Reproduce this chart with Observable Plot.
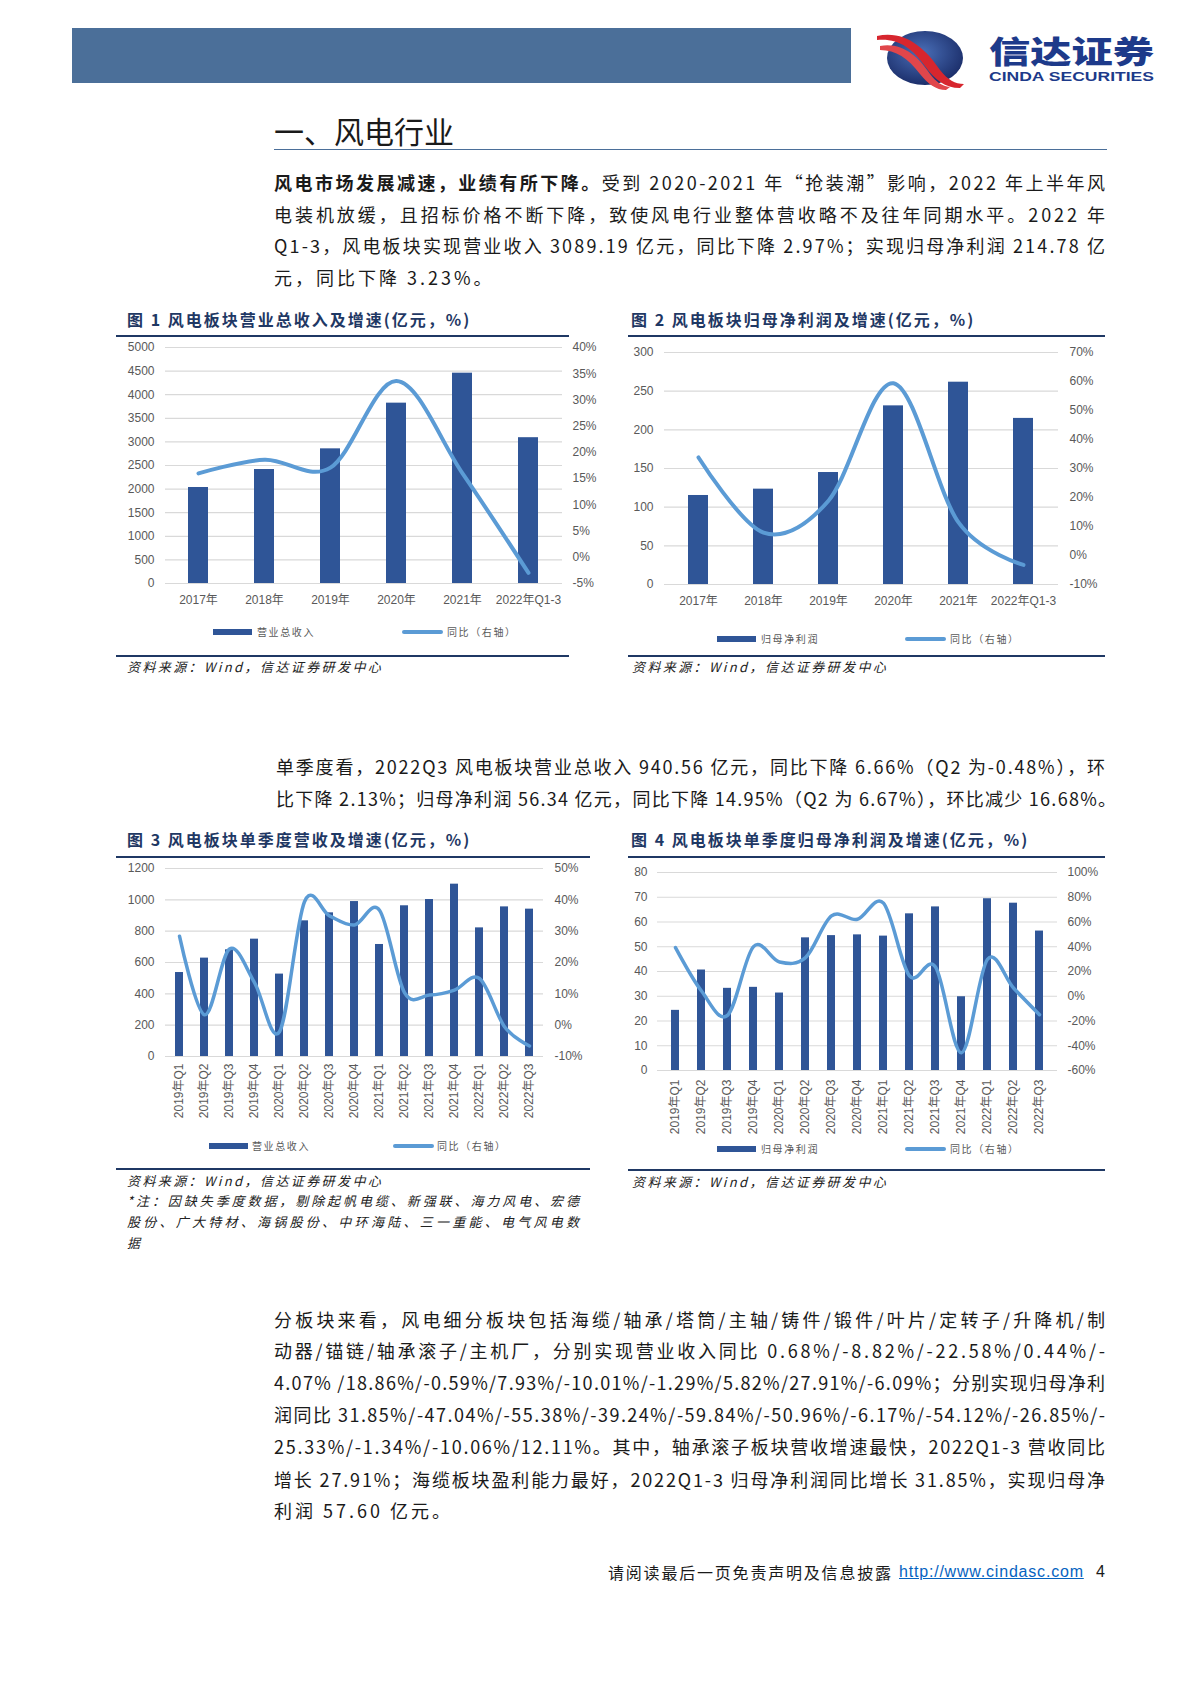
<!DOCTYPE html>
<html><head><meta charset="utf-8">
<script src="https://cdn.jsdelivr.net/npm/d3@7"></script>
<script src="https://cdn.jsdelivr.net/npm/@observablehq/plot@0.6"></script>
<style>
body{margin:0;background:#fff;}
#page{position:relative;width:1190px;height:1683px;overflow:hidden;font-family:"Noto Sans CJK SC",sans-serif;color:#1a1a1a;background:#fff;}
.abs{position:absolute;}
.jl,.pl{position:absolute;white-space:nowrap;font-size:18px;line-height:24px;left:274px;color:#1a1a1a;}
.pl{letter-spacing:3px;}
.ctitle{position:absolute;font-size:16px;line-height:20px;font-weight:700;color:#1F3864;white-space:nowrap;letter-spacing:2px;}
.tline{position:absolute;height:2px;background:#1F3864;}
.bline{position:absolute;height:2px;background:#1F3864;}
.src{position:absolute;font-size:13px;line-height:18px;font-style:italic;color:#222;white-space:nowrap;letter-spacing:2.4px;}
.lgtext{position:absolute;font-size:10px;line-height:14px;color:#595959;letter-spacing:1.6px;white-space:nowrap;}
.lgbar{position:absolute;width:39px;height:6px;background:#2F5597;}
.lgline{position:absolute;width:41px;height:4px;border-radius:2px;background:#5B9BD5;}
.chart{position:absolute;}
</style>
</head><body>
<div id="page">
  <!-- header -->
  <div class="abs" style="left:72px;top:28px;width:779px;height:55px;background:#4B6F99;"></div>
  <svg class="abs" style="left:870px;top:26px;" width="100" height="66" viewBox="870 26 100 66">
    <defs>
      <radialGradient id="gb" cx="0.45" cy="0.4" r="0.7">
        <stop offset="0" stop-color="#4A6FB8"/>
        <stop offset="1" stop-color="#14245E"/>
      </radialGradient>
    </defs>
    <ellipse cx="925" cy="58" rx="38" ry="27" fill="url(#gb)"/>
    <path d="M877,36 C905,30 925,48 940,70 C948,80 955,84 964,84 L960,88 C945,88 935,80 925,66 C912,48 898,38 877,40 Z" fill="#D7262E"/>
    <path d="M880,46 C902,42 918,56 930,74 C936,82 942,86 950,87 L946,90 C936,90 928,84 920,74 C908,58 896,50 880,50 Z" fill="#E0464B"/>
  </svg>
  <svg class="abs" style="left:985px;top:26px;overflow:visible;" width="175" height="62" viewBox="0 0 175 62">
    <text x="4" y="37" textLength="165" lengthAdjust="spacingAndGlyphs" font-family="Noto Sans CJK SC" font-weight="900" font-size="31" fill="#1D3A8A">信达证券</text>
    <text x="4" y="55" textLength="165" lengthAdjust="spacingAndGlyphs" font-family="Liberation Sans" font-weight="700" font-size="13.5" fill="#1D3A8A">CINDA SECURITIES</text>
  </svg>

  <!-- section title -->
  <div class="abs" style="left:274px;top:110px;font-size:30px;line-height:40px;color:#1a1a1a;">一、风电行业</div>
  <div class="abs" style="left:274px;top:149px;width:833px;height:1px;background:#4B6F99;"></div>

  <!-- paragraph 1 -->
  <div class="jl" data-w="831" style="top:170px;"><b>风电市场发展减速，业绩有所下降。</b>受到 2020-2021 年“抢装潮”影响，2022 年上半年风</div>
  <div class="jl" data-w="831" style="top:202px;">电装机放缓，且招标价格不断下降，致使风电行业整体营收略不及往年同期水平。2022 年</div>
  <div class="jl" data-w="831" style="top:233px;">Q1-3，风电板块实现营业收入 3089.19 亿元，同比下降 2.97%；实现归母净利润 214.78 亿</div>
  <div class="pl" style="top:265px;">元，同比下降 3.23%。</div>

  <!-- chart titles row 1 -->
  <div class="ctitle" style="left:127px;top:309px;">图 1 风电板块营业总收入及增速(亿元，%)</div>
  <div class="ctitle" style="left:631px;top:309px;">图 2 风电板块归母净利润及增速(亿元，%)</div>
  <div class="tline" style="left:116px;top:335px;width:453px;"></div>
  <div class="tline" style="left:628px;top:335px;width:477px;"></div>
  <div id="c1" class="chart" style="left:116px;top:337px;"></div>
  <div id="c2" class="chart" style="left:628px;top:337px;"></div>

  <div class="lgbar" style="left:213px;top:629px;"></div>
  <div class="lgtext" style="left:257px;top:625px;">营业总收入</div>
  <div class="lgline" style="left:402px;top:630px;"></div>
  <div class="lgtext" style="left:447px;top:625px;">同比（右轴）</div>

  <div class="lgbar" style="left:717px;top:636px;"></div>
  <div class="lgtext" style="left:761px;top:632px;">归母净利润</div>
  <div class="lgline" style="left:905px;top:637px;"></div>
  <div class="lgtext" style="left:950px;top:632px;">同比（右轴）</div>

  <div class="bline" style="left:116px;top:655px;width:453px;"></div>
  <div class="bline" style="left:628px;top:655px;width:477px;"></div>
  <div class="src" style="left:127px;top:658px;">资料来源：Wind，信达证券研发中心</div>
  <div class="src" style="left:632px;top:658px;">资料来源：Wind，信达证券研发中心</div>

  <!-- paragraph 2 -->
  <div class="jl" data-w="829" style="top:754px;left:276px;">单季度看，2022Q3 风电板块营业总收入 940.56 亿元，同比下降 6.66%（Q2 为-0.48%），环</div>
  <div class="jl" data-w="840" style="top:786px;left:276px;">比下降 2.13%；归母净利润 56.34 亿元，同比下降 14.95%（Q2 为 6.67%），环比减少 16.68%。</div>

  <!-- chart titles row 2 -->
  <div class="ctitle" style="left:127px;top:829px;">图 3 风电板块单季度营收及增速(亿元，%)</div>
  <div class="ctitle" style="left:631px;top:829px;">图 4 风电板块单季度归母净利润及增速(亿元，%)</div>
  <div class="tline" style="left:116px;top:856px;width:474px;"></div>
  <div class="tline" style="left:628px;top:856px;width:477px;"></div>
  <div id="c3" class="chart" style="left:116px;top:858px;"></div>
  <div id="c4" class="chart" style="left:628px;top:858px;"></div>

  <div class="lgbar" style="left:209px;top:1143px;"></div>
  <div class="lgtext" style="left:252px;top:1139px;">营业总收入</div>
  <div class="lgline" style="left:393px;top:1144px;"></div>
  <div class="lgtext" style="left:437px;top:1139px;">同比（右轴）</div>

  <div class="lgbar" style="left:717px;top:1146px;"></div>
  <div class="lgtext" style="left:761px;top:1142px;">归母净利润</div>
  <div class="lgline" style="left:905px;top:1147px;"></div>
  <div class="lgtext" style="left:950px;top:1142px;">同比（右轴）</div>

  <div class="bline" style="left:116px;top:1168px;width:474px;"></div>
  <div class="bline" style="left:628px;top:1169px;width:477px;"></div>
  <div class="src" style="left:127px;top:1172px;">资料来源：Wind，信达证券研发中心</div>
  <div class="src jn" data-w="452" style="left:127px;top:1192px;">*注：因缺失季度数据，剔除起帆电缆、新强联、海力风电、宏德</div>
  <div class="src jn" data-w="452" style="left:127px;top:1213px;">股份、广大特材、海锅股份、中环海陆、三一重能、电气风电数</div>
  <div class="src" style="left:127px;top:1234px;">据</div>
  <div class="src" style="left:632px;top:1173px;">资料来源：Wind，信达证券研发中心</div>

  <!-- paragraph 3 -->
  <div class="jl" data-w="831" style="top:1307px;">分板块来看，风电细分板块包括海缆/轴承/塔筒/主轴/铸件/锻件/叶片/定转子/升降机/制</div>
  <div class="jl" data-w="831" style="top:1338px;">动器/锚链/轴承滚子/主机厂，分别实现营业收入同比 0.68%/-8.82%/-22.58%/0.44%/-</div>
  <div class="jl" data-w="831" style="top:1370px;">4.07% /18.86%/-0.59%/7.93%/-10.01%/-1.29%/5.82%/27.91%/-6.09%；分别实现归母净利</div>
  <div class="jl" data-w="831" style="top:1402px;">润同比 31.85%/-47.04%/-55.38%/-39.24%/-59.84%/-50.96%/-6.17%/-54.12%/-26.85%/-</div>
  <div class="jl" data-w="831" style="top:1434px;">25.33%/-1.34%/-10.06%/12.11%。其中，轴承滚子板块营收增速最快，2022Q1-3 营收同比</div>
  <div class="jl" data-w="831" style="top:1467px;">增长 27.91%；海缆板块盈利能力最好，2022Q1-3 归母净利润同比增长 31.85%，实现归母净</div>
  <div class="pl" style="top:1498px;">利润 57.60 亿元。</div>

  <!-- footer -->
  <div class="abs" style="left:608px;top:1561px;font-size:16px;line-height:22px;letter-spacing:1.8px;white-space:nowrap;color:#1a1a1a;">请阅读最后一页免责声明及信息披露</div>
  <div class="abs" style="left:899px;top:1561px;font-size:16px;line-height:22px;letter-spacing:0.8px;white-space:nowrap;color:#0563C1;text-decoration:underline;font-family:'Liberation Sans',sans-serif;">http://www.cindasc.com</div>
  <div class="abs" style="left:1096px;top:1561px;font-size:16px;line-height:22px;color:#1a1a1a;font-family:'Liberation Sans',sans-serif;">4</div>
</div>

<script>
// ---------- data ----------
const annualCats = ["2017年", "2018年", "2019年", "2020年", "2021年", "2022年Q1-3"];
const annualRevenue = [2034, 2415, 2853, 3821, 4456, 3089.19];
const annualRevenueYoY = [16.0, 18.6, 17.1, 33.6, 16.0, -2.97];
const annualProfit = [115.1, 123.3, 144.8, 231.0, 261.6, 214.78];
const annualProfitYoY = [33.8, 7.9, 18.9, 59.4, 11.4, -3.23];

const quarterCats = ["2019年Q1", "2019年Q2", "2019年Q3", "2019年Q4", "2020年Q1", "2020年Q2", "2020年Q3", "2020年Q4",
  "2021年Q1", "2021年Q2", "2021年Q3", "2021年Q4", "2022年Q1", "2022年Q2", "2022年Q3"];
const quarterRevenue = [536, 628, 681, 749, 526, 866, 917, 989, 715, 962, 1002, 1100, 821, 955, 940.56];
const quarterRevenueYoY = [28.4, 3.3, 24.3, 13.6, -2.1, 39.4, 34.9, 32.0, 36.7, 10.4, 9.6, 11.2, 14.9, -0.48, -6.66];
const quarterProfit = [24.3, 40.6, 33.2, 33.6, 31.3, 53.6, 54.5, 54.8, 54.3, 63.3, 66.1, 29.8, 69.4, 67.6, 56.34];
const quarterProfitYoY = [39.3, 4.2, -15.5, 40.1, 27.7, 31.2, 64.9, 62.2, 75.2, 16.4, 23.6, -45.7, 29.9, 6.67, -14.95];

const barColor = "#2F5597";
const lineColor = "#5B9BD5";

function dualChart(o) {
  const f = p => (p - o.pMin) / (o.pMax - o.pMin) * o.yMax;
  const inv = v => v / o.yMax * (o.pMax - o.pMin) + o.pMin;
  const data = o.cats.map((c, i) => ({cat: c, v: o.bars[i], p: f(o.yoy[i])}));
  const leftTicks = d3.range(0, o.yMax + o.yStep / 2, o.yStep);
  const rightTicks = d3.range(o.pMin, o.pMax + o.pStep / 2, o.pStep).map(f);
  const chart = Plot.plot({
    width: o.width, height: o.height,
    marginTop: o.mt, marginRight: o.mr, marginBottom: o.mb, marginLeft: o.ml,
    style: {fontFamily: "'Liberation Sans', Arial, 'Noto Sans CJK SC', sans-serif", fontSize: "12px", color: "#595959", background: "transparent", overflow: "visible"},
    x: {domain: o.cats, paddingInner: o.pad, paddingOuter: o.pad / 2, label: null},
    y: {domain: [0, o.yMax], label: null},
    marks: [
      Plot.gridY(leftTicks, {stroke: "#d9d9d9", strokeOpacity: 1, strokeWidth: 1.2}),
      Plot.barY(data, {x: "cat", y: "v", fill: barColor}),
      Plot.line(data, {x: "cat", y: "p", stroke: lineColor, strokeWidth: o.lw, curve: "cardinal", strokeLinecap: "round", strokeLinejoin: "round"}),
      Plot.axisY(leftTicks, {anchor: "left", tickSize: 0, tickPadding: o.lpad, label: null, fontSize: 12, fill: "#595959",
        tickFormat: d => String(Math.round(d))}),
      Plot.axisY(rightTicks, {anchor: "right", tickSize: 0, tickPadding: o.rpad, label: null, fontSize: 12, fill: "#595959",
        tickFormat: d => Math.round(inv(d)) + "%"}),
      Plot.axisX({tickSize: 0, tickPadding: o.xpad, label: null, fontSize: 12, fill: "#595959", tickRotate: o.rotate || 0})
    ]
  });
  document.getElementById(o.el).appendChild(chart);
}

dualChart({el: "c1", cats: annualCats, bars: annualRevenue, yoy: annualRevenueYoY,
  width: 490, height: 283, mt: 10, mr: 44, mb: 37, ml: 49,
  yMax: 5000, yStep: 500, pMin: -5, pMax: 40, pStep: 5, pad: 0.69, lw: 4, lpad: 11, rpad: 10, xpad: 12});
dualChart({el: "c2", cats: annualCats, bars: annualProfit, yoy: annualProfitYoY,
  width: 477, height: 283, mt: 15, mr: 47, mb: 36, ml: 36,
  yMax: 300, yStep: 50, pMin: -10, pMax: 70, pStep: 10, pad: 0.69, lw: 4, lpad: 11, rpad: 11, xpad: 12});
dualChart({el: "c3", cats: quarterCats, bars: quarterRevenue, yoy: quarterRevenueYoY,
  width: 474, height: 277, mt: 10, mr: 47, mb: 79, ml: 49,
  yMax: 1200, yStep: 200, pMin: -10, pMax: 50, pStep: 10, pad: 0.68, lw: 3.5, lpad: 11, rpad: 11, xpad: 7, rotate: -90});
dualChart({el: "c4", cats: quarterCats, bars: quarterProfit, yoy: quarterProfitYoY,
  width: 477, height: 282, mt: 14, mr: 48, mb: 70, ml: 29,
  yMax: 80, yStep: 10, pMin: -60, pMax: 100, pStep: 20, pad: 0.69, lw: 3.5, lpad: 10, rpad: 10, xpad: 9, rotate: -90});

function justifyLines() {
  document.querySelectorAll(".jl, .jn").forEach(el => {
    const target = +el.dataset.w;
    el.style.letterSpacing = "0px";
    const nat = el.getBoundingClientRect().width;
    const n = [...el.textContent].length;
    el.style.letterSpacing = ((target - nat) / (n - 1)) + "px";
  });
}
justifyLines();
if (document.fonts && document.fonts.ready) document.fonts.ready.then(justifyLines);
</script>
</body></html>
